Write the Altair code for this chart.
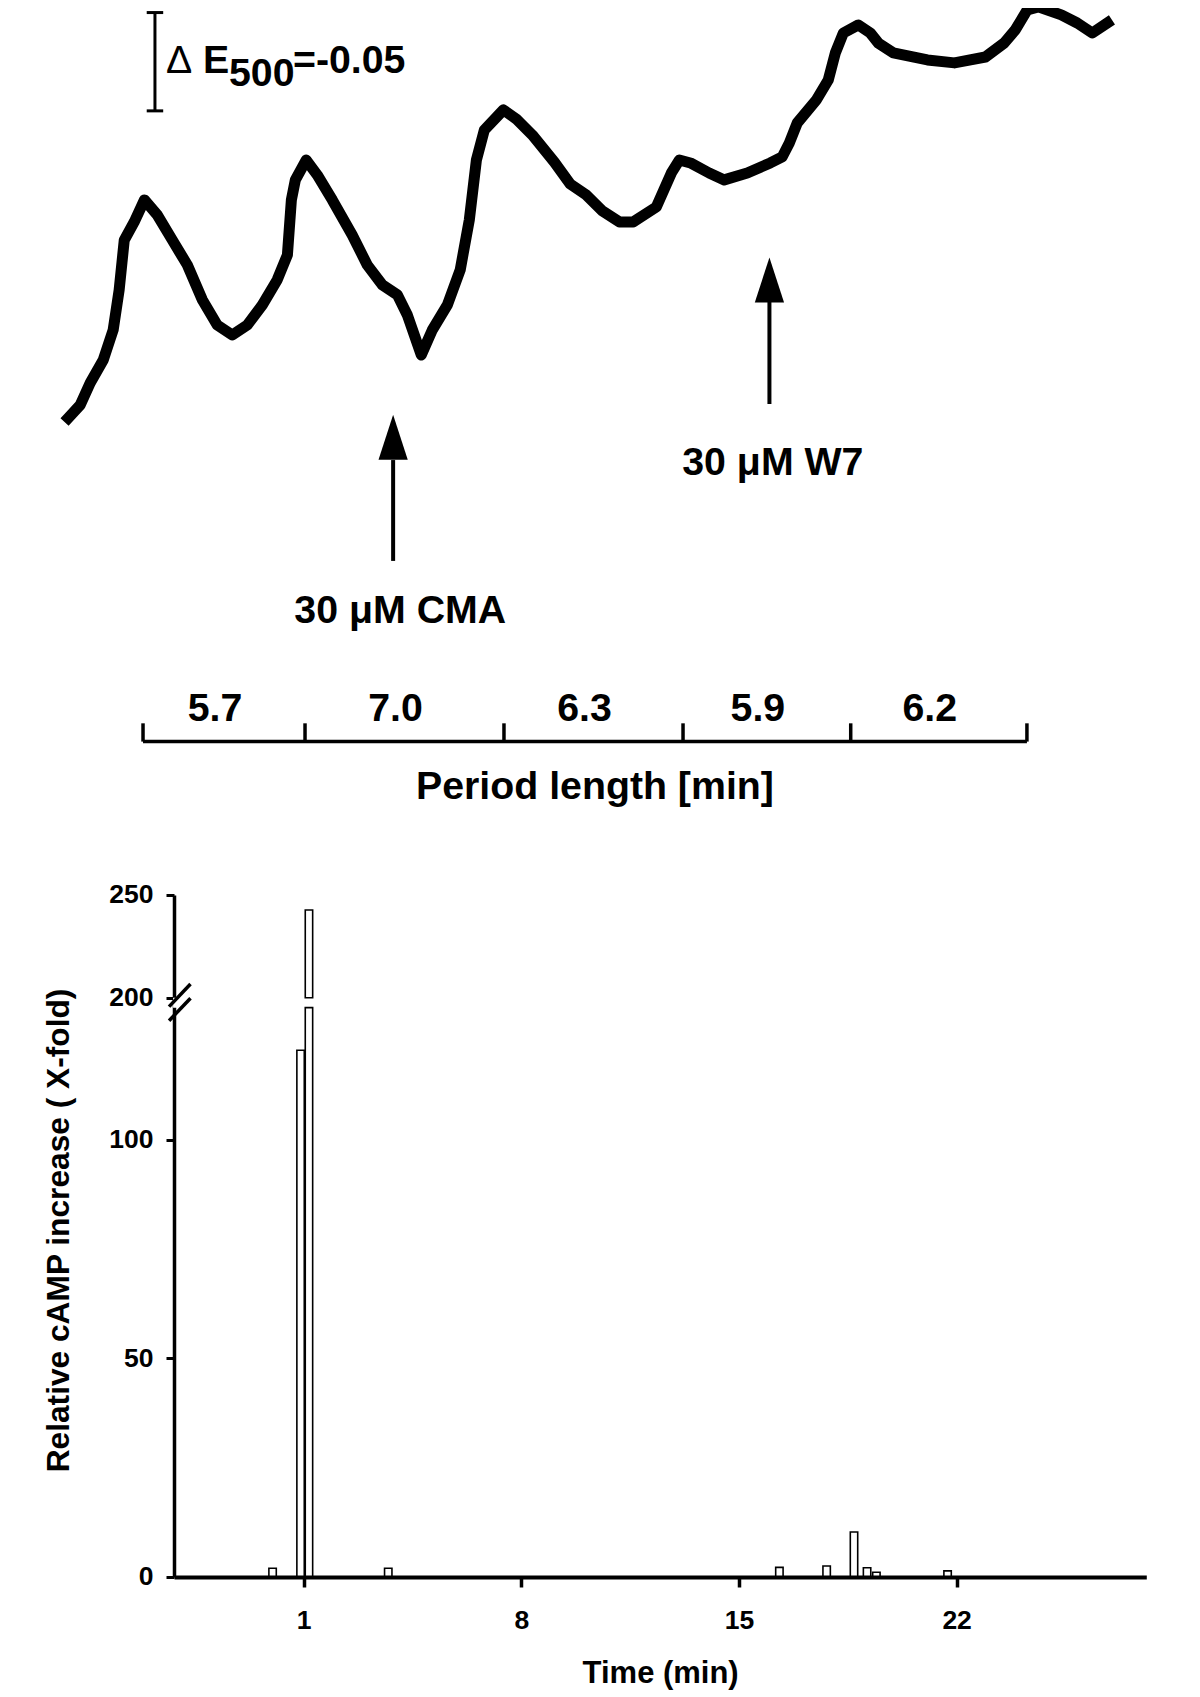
import altair as alt
import pandas as pd

FONT = "Liberation Sans"

# ---------------- top panel: extinction trace ----------------
trace_time = [0.07, 0.49, 0.84, 1.30, 1.65, 1.86, 2.04, 2.39, 2.75, 3.20,
              3.73, 4.26, 4.79, 5.31, 5.84, 6.37, 6.90, 7.42, 7.78, 7.92,
              8.06, 8.44, 8.83, 9.36, 10.06, 10.59, 11.12, 11.65, 12.00, 12.49,
              12.88, 13.41, 13.86, 14.18, 14.43, 14.71, 15.38, 15.83, 16.40, 17.17,
              17.73, 18.30, 18.86, 19.46, 19.95, 20.76, 21.29, 21.57, 21.96, 22.62,
              23.15, 23.96, 24.77, 25.19, 25.44, 25.72, 26.39, 26.81, 27.06, 27.34,
              27.87, 28.29, 28.57, 29.10, 30.30, 31.25, 32.34, 33.00, 33.39, 33.81,
              34.20, 35.01, 35.57, 36.10, 36.63]
trace_ext = [0.0000, 0.0066, 0.0178, 0.0295, 0.0448, 0.0651, 0.0905, 0.0997, 0.1109, 0.1033,
             0.0905, 0.0778, 0.0600, 0.0473, 0.0422, 0.0473, 0.0575, 0.0702, 0.0829, 0.1109,
             0.1211, 0.1312, 0.1236, 0.1109, 0.0931, 0.0778, 0.0677, 0.0626, 0.0524, 0.0320,
             0.0448, 0.0575, 0.0753, 0.1007, 0.1312, 0.1465, 0.1567, 0.1521, 0.1439, 0.1302,
             0.1190, 0.1134, 0.1053, 0.0997, 0.0997, 0.1073, 0.1246, 0.1312, 0.1297, 0.1246,
             0.1211, 0.1246, 0.1297, 0.1328, 0.1399, 0.1501, 0.1617, 0.1719, 0.1857, 0.1958,
             0.1999, 0.1958, 0.1907, 0.1857, 0.1821, 0.1806, 0.1836, 0.1907, 0.1974, 0.2075,
             0.2091, 0.2050, 0.2009, 0.1958, 0.2009]

# scale bar  (ΔE500 = -0.05)
scale_bar_time = 3.12
scale_bar_ext = [0.1562, 0.2062]
scale_bar_cap = 0.29
scale_text_ext = 0.1753

# substance additions (arrows)
addition_labels = ["30 μM CMA", "30 μM W7"]
addition_time = [11.50, 24.74]
arrow_head_ext = [-0.0098, 0.0702]
arrow_base_ext = [-0.0214, 0.0592]
arrow_tail_ext = [-0.0727, 0.0071]
label_time = [11.75, 24.86]
label_ext = [-0.0984, -0.0229]

# period lengths
period_lengths = [5.7, 7.0, 6.3, 5.9, 6.2]
period_start = 2.70
bracket_ext = -0.1646
bracket_tick_ext = -0.1553
period_label_ext = -0.1480
period_title = "Period length [min]"
period_title_time = 18.6
period_title_ext = -0.1877

# ---------------- bottom panel: cAMP ----------------
bar_time = [0.0, 0.90, 1.17, 3.72, 16.30, 17.82, 18.70, 19.12, 19.42, 21.71]
bar_value = [2.0, 163.0, 242.7, 2.0, 2.2, 2.5, 10.3, 2.1, 1.1, 1.4]
y_ticks = [0, 50, 100, 200, 250]
x_ticks = [1, 8, 15, 22]
break_lo, break_hi = 193, 200
break_gap = {"t0": [-3.20], "t1": [-2.82], "lo": [break_lo], "hi": [break_hi]}
break_slashes = {"t0": [-3.33, -3.33], "t1": [-2.64, -2.64],
                 "v0": [193.7, 183.8], "v1": [206.7, 199.6]}

TOP_FS = 39.3

# ================= build top chart =================
xs_top = alt.Scale(domain=[3.79, 38.0], nice=False, zero=False)
ys_top = alt.Scale(domain=[-0.1943, 0.2075], nice=False, zero=False)


def XT(f):
    return alt.X(f, type="quantitative", scale=xs_top, axis=None)


def YT(f):
    return alt.Y(f, type="quantitative", scale=ys_top, axis=None)


trace_df = pd.DataFrame({"t": trace_time, "e": trace_ext})
trace = alt.Chart(trace_df).mark_line(color="black", strokeWidth=11, strokeJoin="round",
                                      strokeCap="square").encode(x=XT("t"), y=YT("e"))

sb_df = pd.DataFrame({"t": [scale_bar_time], "e0": [scale_bar_ext[0]], "e1": [scale_bar_ext[1]]})
sb = alt.Chart(sb_df).mark_rule(color="black", strokeWidth=3).encode(
    x=XT("t"), y=YT("e0"), y2=alt.Y2("e1"))
cap_df = pd.DataFrame({"t0": [scale_bar_time - scale_bar_cap] * 2,
                       "t1": [scale_bar_time + scale_bar_cap] * 2,
                       "e": scale_bar_ext})
caps = alt.Chart(cap_df).mark_rule(color="black", strokeWidth=3).encode(
    x=XT("t0"), x2=alt.X2("t1"), y=YT("e"))

st_df = pd.DataFrame({"t": [scale_bar_time], "e": [scale_text_ext]})


def stext(txt, dx, dy=0, weight="bold"):
    return alt.Chart(st_df).mark_text(text=txt, align="left", baseline="alphabetic",
                                      dx=dx, dy=dy, fontSize=TOP_FS, fontWeight=weight,
                                      color="black", font=FONT).encode(x=XT("t"), y=YT("e"))


st1 = stext("Δ", 11, weight="normal")
st2 = stext("E", 48)
st3 = stext("500", 74, dy=13)
st4 = stext("=-0.05", 138)

arr_df = pd.DataFrame({"t": addition_time, "head": arrow_head_ext, "base": arrow_base_ext,
                       "tail": arrow_tail_ext})
shafts = alt.Chart(arr_df).mark_rule(color="black", strokeWidth=4).encode(
    x=XT("t"), y=YT("base"), y2=alt.Y2("tail"))
heads = alt.Chart(arr_df).mark_point(shape="M0,-1L0.65,1L-0.65,1Z", size=2025, filled=True,
                                     color="black", opacity=1).encode(x=XT("t"), y=YT("head"))
lab_df = pd.DataFrame({"t": label_time, "e": label_ext, "label": addition_labels})
labels = alt.Chart(lab_df).mark_text(fontSize=TOP_FS, fontWeight="bold", color="black",
                                     baseline="middle", font=FONT).encode(
    x=XT("t"), y=YT("e"), text="label:N")

bounds = [period_start]
for p in period_lengths:
    bounds.append(round(bounds[-1] + p, 3))
base_df = pd.DataFrame({"t0": [bounds[0]], "t1": [bounds[-1]], "e": [bracket_ext]})
bracket_base = alt.Chart(base_df).mark_rule(color="black", strokeWidth=3.5).encode(
    x=XT("t0"), x2=alt.X2("t1"), y=YT("e"))
btick_df = pd.DataFrame({"t": bounds, "e0": [bracket_ext] * len(bounds),
                         "e1": [bracket_tick_ext] * len(bounds)})
bracket_ticks = alt.Chart(btick_df).mark_rule(color="black", strokeWidth=3.5).encode(
    x=XT("t"), y=YT("e0"), y2=alt.Y2("e1"))
plab_df = pd.DataFrame({"t": [(bounds[i] + bounds[i + 1]) / 2 for i in range(len(period_lengths))],
                        "e": [period_label_ext] * len(period_lengths),
                        "label": [f"{p:.1f}" for p in period_lengths]})
plabels = alt.Chart(plab_df).mark_text(fontSize=TOP_FS, fontWeight="bold", color="black",
                                       baseline="middle", dx=-9, font=FONT).encode(
    x=XT("t"), y=YT("e"), text="label:N")
ptitle_df = pd.DataFrame({"t": [period_title_time], "e": [period_title_ext], "label": [period_title]})
ptitle = alt.Chart(ptitle_df).mark_text(fontSize=TOP_FS, fontWeight="bold", color="black",
                                        baseline="middle", font=FONT).encode(
    x=XT("t"), y=YT("e"), text="label:N")

top = alt.layer(trace, sb, caps, st1, st2, st3, st4, shafts, heads, labels,
                bracket_base, bracket_ticks, plabels, ptitle).properties(width=972.3, height=790)

# ================= build bottom chart =================
xs_bot = alt.Scale(domain=[-3.01, 27.94], nice=False, zero=False)
ys_bot = alt.Scale(domain=[0, 100, 200, 250], range=[682, 244.6, 102.7, 0], nice=False, zero=False)

x_axis = alt.Axis(values=x_ticks, format="d", title="Time (min)", grid=False,
                  tickSize=10, tickWidth=3.5, tickColor="black", domainWidth=4,
                  domainColor="black", labelFontSize=26.5, labelFontWeight="bold",
                  labelColor="black", labelPadding=21, titleFontSize=31,
                  titleFontWeight="bold", titleColor="black", titlePadding=24,
                  labelFont=FONT, titleFont=FONT, zindex=1)
y_axis = alt.Axis(values=y_ticks, title="Relative cAMP increase ( X-fold)", grid=False,
                  tickSize=8, tickWidth=3, tickColor="black", domainWidth=3.5,
                  domainColor="black", labelFontSize=26.5, labelFontWeight="bold",
                  labelColor="black", labelPadding=13, titleFontSize=31.7,
                  titleFontWeight="bold", titleColor="black", titlePadding=33,
                  titleY=335, labelFont=FONT, titleFont=FONT, labelOverlap=False, zindex=0)


def XB(f):
    return alt.X(f, type="quantitative", scale=xs_bot, axis=x_axis)


def YB(f):
    return alt.Y(f, type="quantitative", scale=ys_bot, axis=y_axis)


seg_t, seg_lo, seg_hi = [], [], []
for t, v in zip(bar_time, bar_value):
    if v > break_hi:
        seg_t += [t, t]
        seg_lo += [0, break_hi]
        seg_hi += [break_lo, v]
    else:
        seg_t.append(t)
        seg_lo.append(0)
        seg_hi.append(v)
bar_df = pd.DataFrame({"t": seg_t, "lo": seg_lo, "hi": seg_hi})
bars = alt.Chart(bar_df).mark_bar(size=7.4, fill="white", stroke="black", strokeWidth=1.6).encode(
    x=XB("t"), y=YB("lo"), y2=alt.Y2("hi"))

gap = alt.Chart(pd.DataFrame(break_gap)).mark_rect(fill="white").encode(
    x=XB("t0"), x2=alt.X2("t1"), y=YB("lo"), y2=alt.Y2("hi"))
slashes = alt.Chart(pd.DataFrame(break_slashes)).mark_rule(color="black", strokeWidth=3.5).encode(
    x=XB("t0"), x2=alt.X2("t1"), y=YB("v0"), y2=alt.Y2("v1"))

bottom = alt.layer(bars, gap, slashes).properties(width=972.3, height=682)

chart = alt.vconcat(top, bottom, spacing=95, bounds="flush").properties(
    padding={"left": 35, "top": -9, "right": 5, "bottom": 5}
).configure(font=FONT).configure_view(stroke="transparent", strokeWidth=0)

chart.save("out.html", embed_options={"renderer": "svg", "actions": False})
